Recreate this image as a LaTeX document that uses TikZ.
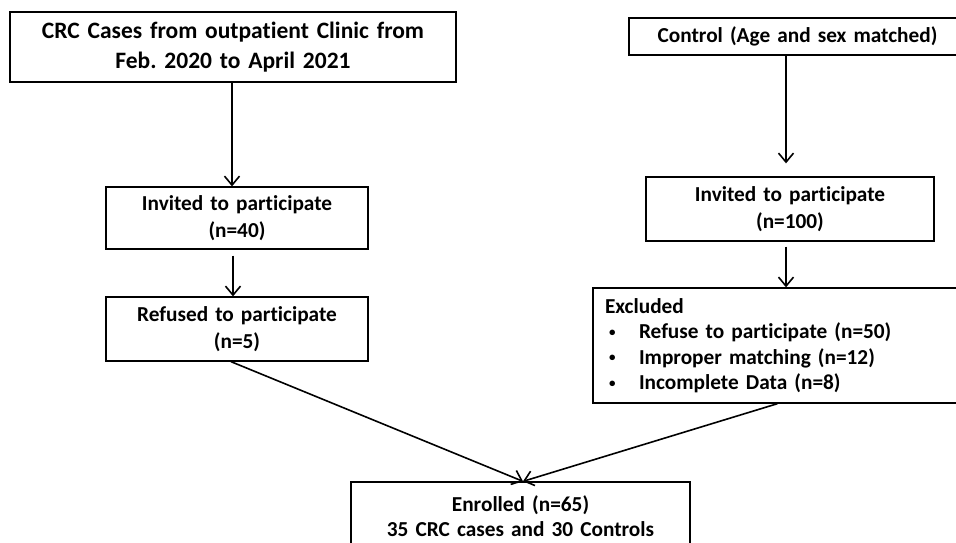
\documentclass[tikz,border=0pt]{standalone}
\usepackage{fontspec}
\setmainfont{Carlito}[Ligatures=NoCommon]
\usetikzlibrary{arrows.meta}
\frenchspacing
\newcommand{\bul}{\hspace*{4pt}\makebox[30pt][l]{\raisebox{2.5pt}{\fontsize{13}{13}\selectfont\textbullet}}}

\begin{document}
\begin{tikzpicture}[x=1pt,y=-1pt]
    
    \tikzset{box/.style = {shape=rectangle,draw,line width=1.3pt,inner sep=0pt,align=center,font=\bfseries\fontsize{21.3}{27}\selectfont}}
    \tikzset{flow/.style = {-{Straight Barb[length=9pt,width=15pt]},line width=1.6pt}}
    \useasboundingbox (0,0) rectangle (956,542);
    \node[box,text width=446pt,minimum height=70pt,font=\bfseries\fontsize{23.5}{30}\selectfont] (crc) at (233,47) {CRC Cases from outpatient Clinic from\\Feb. 2020 to April 2021};
    \node[box,text width=262pt,minimum height=62pt] (inv1) at (237,218) {Invited to participate\\(n=40)};
    \node[box,text width=262pt,minimum height=64pt] (ref) at (237,329) {Refused to participate\\(n=5)};
    \node[box,text width=337pt,minimum height=37pt] (ctrl) at (797.5,36.5) {Control (Age and sex matched)};
    \node[box,text width=288pt,minimum height=64pt] (inv2) at (790,209) {Invited to participate\\(n=100)};
    \node[box,align=left,inner xsep=12pt,text width=345pt,minimum height=115pt,font=\bfseries\fontsize{21.3}{25.5}\selectfont] (exc) at (777.5,345.5) {Excluded\\
        \bul Refuse to participate (n=50)\\
        \bul Improper matching (n=12)\\
        \bul Incomplete Data (n=8)};
    \node[box,text width=339pt,minimum height=68pt,font=\bfseries\fontsize{21.3}{24.5}\selectfont] (enr) at (520.5,516) {Enrolled (n=65)\\35 CRC cases and 30 Controls};
    %arrows
    \draw[flow] ([xshift=-1pt]crc.south) to ([xshift=-1pt]crc.south |- inv1.north);
    \draw[flow] ([xshift=-4pt,yshift=-6pt]inv1.south) to ([xshift=-4pt]inv1.south |- ref.north);
    \draw[flow,shorten >=13pt] ([xshift=-11.5pt]ctrl.south) to ([xshift=-11.5pt]ctrl.south |- inv2.north);
    \draw[flow] ([xshift=-4pt,yshift=-5pt]inv2.south) to ([xshift=-4pt]inv2.south |- exc.north);
    \draw[flow] ([xshift=-6pt]ref.south) to ([xshift=2.5pt]enr.north);
    \draw[flow] (exc.south) to ([xshift=2.5pt]enr.north);
\end{tikzpicture}
\end{document}
